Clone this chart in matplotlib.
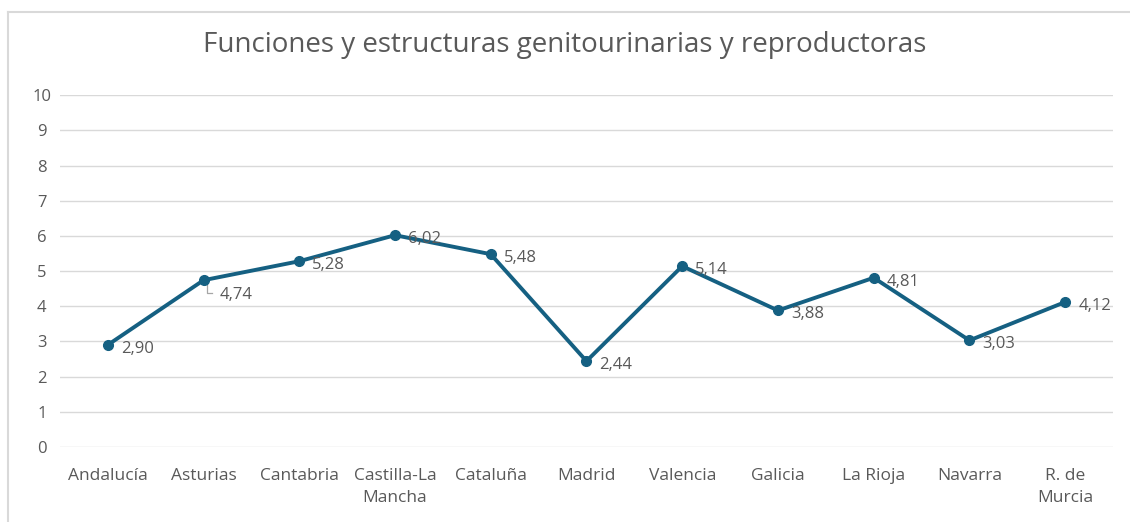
import matplotlib
matplotlib.use("Agg")
import matplotlib.pyplot as plt
from matplotlib.lines import Line2D

regions = ["Andalucía", "Asturias", "Cantabria", "Castilla-La\nMancha", "Cataluña",
           "Madrid", "Valencia", "Galicia", "La Rioja", "Navarra", "R. de\nMurcia"]
values = [2.90, 4.74, 5.28, 6.02, 5.48, 2.44, 5.14, 3.88, 4.81, 3.03, 4.12]
y_ticks = list(range(0, 11))
title = "Funciones y estructuras genitourinarias y reproductoras"

LINE = "#156082"
TEXT = "#595959"
GRID = "#d9d9d9"

plt.rcParams["font.family"] = ["Open Sans", "DejaVu Sans"]

fig = plt.figure(figsize=(11.3, 5.22), dpi=100)
ax = fig.add_axes([0.053, 0.1437, 0.932, 0.674])

x = list(range(len(regions)))
ax.plot(x, values, color=LINE, linewidth=2.8, marker="o", markersize=7,
        solid_joinstyle="round", zorder=3)

# data labels, Excel-style to the right of each point
for i, v in enumerate(values):
    dx, dy = 13, -4
    if i == 1:
        dx, dy = 16, -15
    ax.annotate(f"{v:.2f}".replace(".", ","), (i, v), xytext=(dx, dy),
                textcoords="offset pixels", ha="left", va="center",
                fontsize=12, color=TEXT, zorder=4)
# leader line for the Asturias label
ax.plot([1.04, 1.04, 1.09], [values[1] - 0.15, values[1] - 0.35, values[1] - 0.35],
        color="#a6a6a6", linewidth=0.9, zorder=2)

ax.set_xlim(-0.5, len(regions) - 0.5)
ax.set_ylim(0, 10)
ax.set_yticks(y_ticks)
ax.set_xticks(x)
ax.set_xticklabels(regions, linespacing=1.55, fontsize=12.5)
ax.grid(axis="y", color=GRID, linewidth=1)
ax.set_axisbelow(True)
for s in ax.spines.values():
    s.set_visible(False)
ax.tick_params(axis="both", length=0, colors=TEXT)
ax.tick_params(axis="y", labelsize=12, pad=13)
ax.tick_params(axis="x", pad=15)
for lbl in ax.get_yticklabels():
    lbl.set_horizontalalignment("center")

fig.text(0.5, 0.913, title, ha="center", va="center", fontsize=20, color=TEXT)

# chart area border (top and left visible in crop)
fig.add_artist(Line2D([8 / 1130, 1], [1 - 12 / 522, 1 - 12 / 522],
                      transform=fig.transFigure, color="#d9d9d9", linewidth=1.5))
fig.add_artist(Line2D([8 / 1130, 8 / 1130], [0, 1 - 12 / 522],
                      transform=fig.transFigure, color="#d9d9d9", linewidth=1.5))

fig.savefig("out.png", dpi=100)
